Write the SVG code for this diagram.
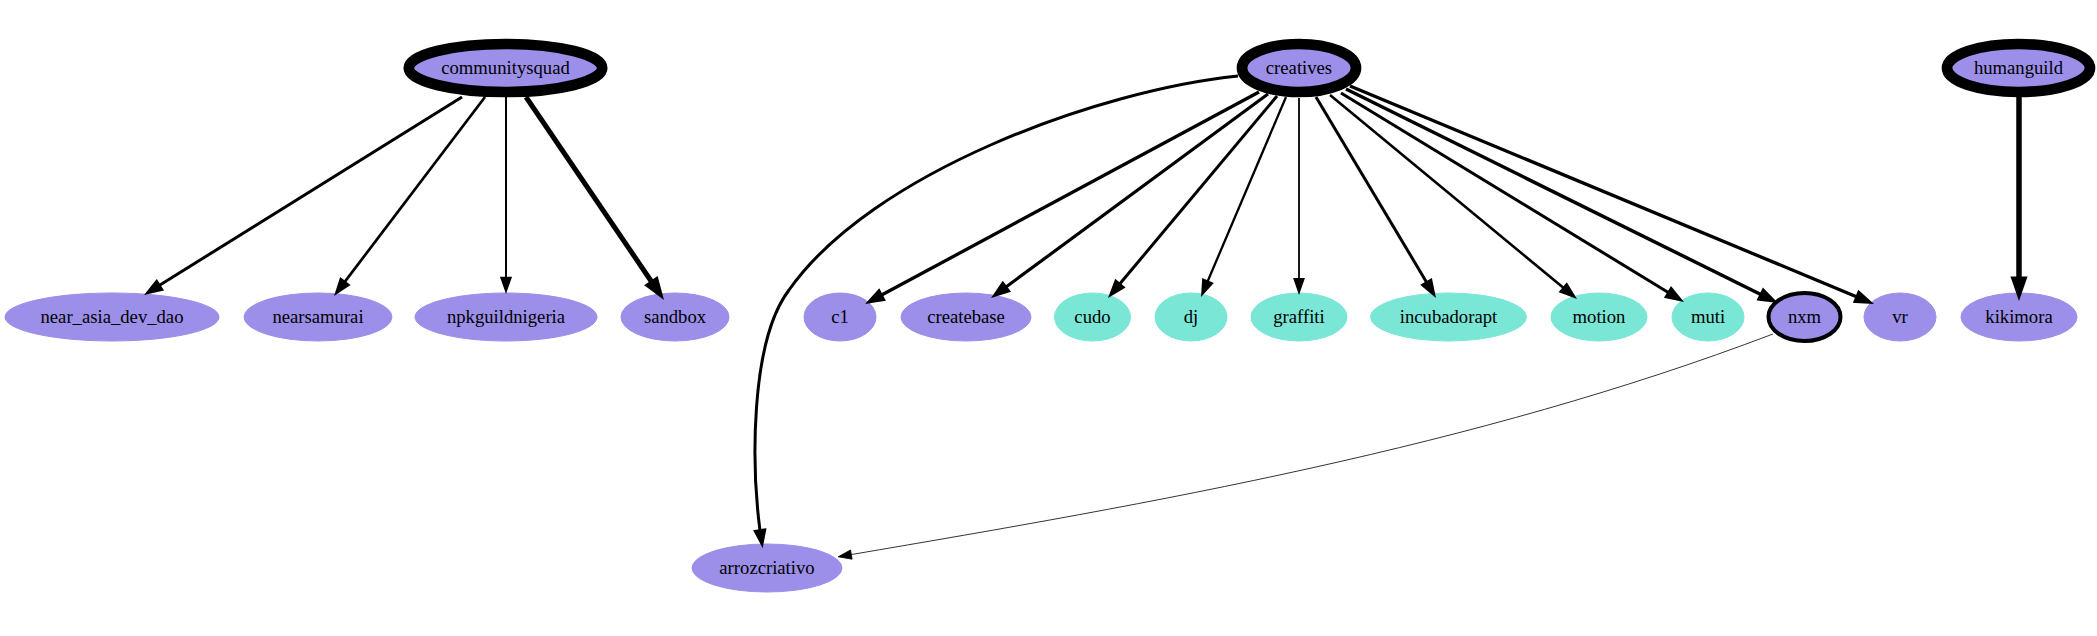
<svg xmlns="http://www.w3.org/2000/svg" width="2097" height="636" viewBox="0 0 2097 636">
<style>
.p{fill:#9b8fe9;stroke:#9b8fe9;stroke-width:1}
.t{fill:#7ae6d5;stroke:#7ae6d5;stroke-width:1}
.hub{stroke:#000;stroke-width:10.7}
.ring{stroke:#000;stroke-width:4}
text{font-family:"Liberation Serif","Times New Roman",serif;font-size:18.67px;text-anchor:middle;fill:#000}
.e{fill:none;stroke:#000}
.a{fill:#000;stroke:#000}
</style>
<rect width="2097" height="636" fill="#fff"/>
<g id="nodes">
<g id="communitysquad"><ellipse class="p hub" cx="505.5" cy="68" rx="96.7" ry="24"/><text x="505.5" y="73.6">communitysquad</text></g>
<g id="creatives"><ellipse class="p hub" cx="1299" cy="68" rx="57" ry="24"/><text x="1299" y="73.6">creatives</text></g>
<g id="humanguild"><ellipse class="p hub" cx="2018.5" cy="68" rx="71.5" ry="24"/><text x="2018.5" y="73.6">humanguild</text></g>
<g id="near_asia_dev_dao"><ellipse class="p" cx="112" cy="317" rx="107" ry="24"/><text x="112" y="322.6">near_asia_dev_dao</text></g>
<g id="nearsamurai"><ellipse class="p" cx="318" cy="317" rx="74" ry="24"/><text x="318" y="322.6">nearsamurai</text></g>
<g id="npkguildnigeria"><ellipse class="p" cx="506" cy="317" rx="91" ry="24"/><text x="506" y="322.6">npkguildnigeria</text></g>
<g id="sandbox"><ellipse class="p" cx="675" cy="317" rx="54" ry="24"/><text x="675" y="322.6">sandbox</text></g>
<g id="c1"><ellipse class="p" cx="840" cy="317" rx="36" ry="24"/><text x="840" y="322.6">c1</text></g>
<g id="createbase"><ellipse class="p" cx="966" cy="317" rx="65" ry="24"/><text x="966" y="322.6">createbase</text></g>
<g id="cudo"><ellipse class="t" cx="1092.5" cy="317" rx="38" ry="24"/><text x="1092.5" y="322.6">cudo</text></g>
<g id="dj"><ellipse class="t" cx="1191" cy="317" rx="36" ry="24"/><text x="1191" y="322.6">dj</text></g>
<g id="graffiti"><ellipse class="t" cx="1299" cy="317" rx="48" ry="24"/><text x="1299" y="322.6">graffiti</text></g>
<g id="incubadorapt"><ellipse class="t" cx="1448.5" cy="317" rx="78" ry="24"/><text x="1448.5" y="322.6">incubadorapt</text></g>
<g id="motion"><ellipse class="t" cx="1599" cy="317" rx="48" ry="24"/><text x="1599" y="322.6">motion</text></g>
<g id="muti"><ellipse class="t" cx="1708" cy="317" rx="36" ry="24"/><text x="1708" y="322.6">muti</text></g>
<g id="nxm"><ellipse class="p ring" cx="1804.5" cy="317" rx="36" ry="24"/><text x="1804.5" y="322.6">nxm</text></g>
<g id="vr"><ellipse class="p" cx="1900" cy="317" rx="36" ry="24"/><text x="1900" y="322.6">vr</text></g>
<g id="kikimora"><ellipse class="p" cx="2019" cy="317" rx="58" ry="24"/><text x="2019" y="322.6">kikimora</text></g>
<g id="arrozcriativo"><ellipse class="p" cx="767" cy="568" rx="75" ry="24"/><text x="767" y="573.6">arrozcriativo</text></g>
</g>
<g id="edges">
<g stroke-width="3"><path class="e" d="M462,97 L159.15,285.52"/><polygon class="a" points="156.67,281.56 147.85,292.59 161.63,289.48"/></g>
<g stroke-width="2.7"><path class="e" d="M485,97 L344.53,282.13"/><polygon class="a" points="340.81,279.31 336.47,292.75 348.25,284.95"/></g>
<g stroke-width="2"><path class="e" d="M506,97 L506,277.64"/><polygon class="a" points="510.67,277.64 506,290.97 501.33,277.64"/></g>
<g stroke-width="5"><path class="e" d="M526,97 L652.26,282.72"/><polygon class="a" points="648.40,285.35 659.75,293.74 656.12,280.09"/></g>
<g stroke-width="3"><path class="e" d="M1238,76 C1100,90 872,172 789,290 C749,343 752,470 760.02,530.63"/><polygon class="a" points="755.40,531.33 762.02,543.81 764.64,529.93"/></g>
<g stroke-width="3.3"><path class="e" d="M1259,92 L881.14,295.31"/><polygon class="a" points="878.93,291.20 869.40,301.63 883.35,299.42"/></g>
<g stroke-width="3.2"><path class="e" d="M1268,94 L1005.63,287.23"/><polygon class="a" points="1002.86,283.47 994.90,295.13 1008.40,290.99"/></g>
<g stroke-width="3"><path class="e" d="M1277,96 L1119.46,284.30"/><polygon class="a" points="1115.88,281.30 1110.91,294.52 1123.04,287.30"/></g>
<g stroke-width="2.3"><path class="e" d="M1286,97 L1207.57,281.53"/><polygon class="a" points="1203.27,279.70 1202.36,293.80 1211.87,283.36"/></g>
<g stroke-width="1.8"><path class="e" d="M1299,98 L1299,278.95"/><polygon class="a" points="1303.67,278.95 1299,292.28 1294.33,278.95"/></g>
<g stroke-width="3"><path class="e" d="M1316,97 L1426.84,282.65"/><polygon class="a" points="1422.83,285.04 1433.67,294.10 1430.85,280.26"/></g>
<g stroke-width="2.6"><path class="e" d="M1330,95 L1563.69,288.01"/><polygon class="a" points="1560.72,291.61 1573.97,296.50 1566.66,284.41"/></g>
<g stroke-width="3"><path class="e" d="M1341,93 L1668.74,292.70"/><polygon class="a" points="1666.31,296.69 1680.12,299.64 1671.17,288.71"/></g>
<g stroke-width="3.5"><path class="e" d="M1346,89 L1761.30,294.73"/><polygon class="a" points="1759.23,298.91 1773.25,300.65 1763.37,290.55"/></g>
<g stroke-width="3.3"><path class="e" d="M1350,86 L1857.08,296.96"/><polygon class="a" points="1855.29,301.27 1869.39,302.08 1858.87,292.65"/></g>
<g stroke-width="5.5"><path class="e" d="M2019,97 L2019,279.35"/><polygon class="a" points="2023.67,279.35 2019,292.68 2014.33,279.35"/></g>
<g stroke-width="0.8"><path class="e" d="M1773,334 C1473,448 1151,503.5 851.33,554.56"/><polygon class="a" points="850.55,549.96 838.19,556.8 852.11,559.16"/></g>
</g>
</svg>
